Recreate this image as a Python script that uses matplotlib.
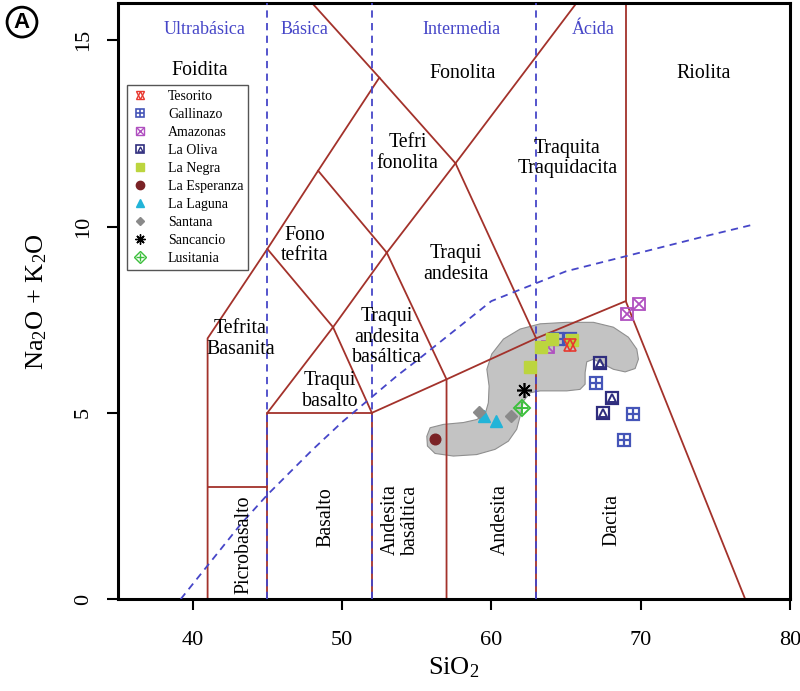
import numpy as np
import matplotlib.pyplot as plt
from matplotlib.lines import Line2D
from matplotlib.patches import Polygon
from matplotlib.legend_handler import HandlerTuple

plt.rcParams['font.family'] = ['Liberation Serif', 'DejaVu Serif']
plt.rcParams['mathtext.default'] = 'regular'

# TAS boundaries (SiO2, Na2O+K2O)
tas_lines = [
    [(41, 0), (41, 7), (45, 9.4), (48.4, 11.5), (52.5, 14), (57.6, 11.7), (63, 7)],
    [(41, 3), (45, 3)],
    [(45, 0), (45, 5), (52, 5), (52, 0)],
    [(45, 5), (49.4, 7.3), (52, 5)],
    [(45, 9.4), (49.4, 7.3)],
    [(48.4, 11.5), (53, 9.3), (49.4, 7.3)],
    [(53, 9.3), (57, 5.9), (57, 0)],
    [(53, 9.3), (57.6, 11.7)],
    [(52, 5), (57, 5.9), (63, 7), (69, 8), (77, 0)],
    [(63, 7), (63, 0)],
    [(69, 8), (69, 16)],
    [(52.5, 14), (48.0, 16)],
    [(57.6, 11.7), (65.7, 16)],
]

# alkaline / subalkaline divide
ib_x = [39.2, 40, 43.2, 45, 48, 50, 53.7, 55, 60, 65, 74.4, 77.5]
ib_y = [0, 0.4, 2.0, 2.8, 4.0, 4.75, 6.0, 6.4, 8.0, 8.8, 9.75, 10.05]

silica_div = [45, 52, 63]
silica_names = ['Ultrabásica', 'Básica', 'Intermedia', 'Ácida']
silica_name_x = [40.8, 47.5, 58.0, 66.8]

# grey field
field_x = [55.68, 55.90, 56.79, 58.13, 59.02, 59.58, 59.80, 59.85, 59.70, 60.03,
           60.81, 61.93, 63.27, 65.05, 66.84, 68.17, 69.18, 69.74, 69.85, 69.63,
           68.96, 68.17, 67.40, 66.84, 66.39, 66.28, 66.28, 65.94, 65.05, 63.27,
           62.60, 62.15, 61.93, 61.70, 61.14, 60.25, 59.02, 57.46, 56.23, 55.72]
field_y = [4.37, 4.60, 4.69, 4.74, 4.82, 4.96, 5.27, 5.72, 6.17, 6.58,
           6.98, 7.25, 7.39, 7.43, 7.43, 7.30, 7.03, 6.71, 6.44, 6.19,
           6.10, 6.17, 6.33, 6.44, 6.37, 6.08, 5.77, 5.63, 5.59, 5.59,
           5.54, 5.32, 4.91, 4.56, 4.24, 4.02, 3.88, 3.84, 3.91, 4.11]

# samples
tesorito_x, tesorito_y = [65.3], [6.82]
gallinazo_x = [64.4, 65.3, 67.0, 69.5, 68.9]
gallinazo_y = [6.98, 6.98, 5.81, 4.98, 4.27]
amazonas_x = [63.8, 69.1, 69.9]
amazonas_y = [6.78, 7.65, 7.92]
oliva_x = [67.3, 68.1, 67.5]
oliva_y = [6.33, 5.39, 4.99]
negra_x = [63.3, 64.05, 65.4, 62.6]
negra_y = [6.76, 6.98, 6.95, 6.22]
esperanza_x, esperanza_y = [56.2], [4.31]
laguna_x = [59.5, 60.3]
laguna_y = [4.91, 4.78]
santana_x = [59.2, 61.35]
santana_y = [5.02, 4.91]
sancancio_x, sancancio_y = [62.2], [5.61]
lusitania_x, lusitania_y = [62.05], [5.14]

# rock names: (text, x, y, rotation)
rock_labels = [
    ('Foidita', 40.5, 14.2, 0), ('Fonolita', 58.1, 14.12, 0), ('Riolita', 74.2, 14.12, 0),
    ('Tefri\nfonolita', 54.4, 11.97, 0), ('Traquita\nTraquidacita', 65.1, 11.83, 0),
    ('Fono\ntefrita', 47.5, 9.49, 0), ('Traqui\nandesita', 57.6, 9.0, 0),
    ('Tefrita\nBasanita', 43.2, 6.98, 0), ('Traqui\nandesita\nbasáltica', 53.0, 7.03, 0),
    ('Traqui\nbasalto', 49.2, 5.58, 0), ('Picrobasalto', 43.4, 1.46, 90),
    ('Basalto', 48.9, 2.2, 90), ('Andesita\nbasáltica', 53.9, 2.13, 90),
    ('Andesita', 60.6, 2.13, 90), ('Dacita', 68.1, 2.13, 90),
]

red = '#a3322b'
blue = '#4646c8'

fig = plt.figure(figsize=(8, 6.91), dpi=100)
ax = fig.add_axes([0.1475, 0.133, 0.84, 0.8625])

ax.add_patch(Polygon(np.column_stack([field_x, field_y]), closed=True,
                     facecolor='#c3c3c3', edgecolor='#8f8f8f', lw=0.8, zorder=1))

for seg in tas_lines:
    xs, ys = zip(*seg)
    ax.plot(xs, ys, color=red, lw=1.3, zorder=2)

for xv in silica_div:
    ax.plot([xv, xv], [0, 16], color=blue, lw=1.3, ls=(0, (4, 3)), zorder=3)
ax.plot(ib_x, ib_y, color=blue, lw=1.3, ls=(0, (4, 3)), zorder=3)

for name, xv in zip(silica_names, silica_name_x):
    ax.text(xv, 15.28, name, color=blue, fontsize=13, ha='center', va='center')
for txt, xv, yv, rot in rock_labels:
    ax.text(xv, yv, txt, fontsize=14.3, ha='center', va='center', rotation=rot,
            linespacing=1.12, zorder=4)

ms = 9
c_tes, c_gal, c_ama, c_oli = '#e8382f', '#4555b8', '#b050c0', '#2f2d7e'
c_neg, c_esp, c_lag, c_san, c_sac, c_lus = '#bcd53e', '#7a2326', '#22b4d8', '#8a8a8a', 'black', '#3cbf3c'

def pts(x, y, **kw):
    ax.plot(x, y, ls='none', zorder=5, **kw)

pts(gallinazo_x, gallinazo_y, marker='s', ms=ms, mfc='none', mec=c_gal, mew=1.6)
pts(gallinazo_x, gallinazo_y, marker='+', ms=ms, mec=c_gal, mew=1.6)
pts(oliva_x, oliva_y, marker='s', ms=ms, mfc='none', mec=c_oli, mew=1.6)
pts(oliva_x, oliva_y, marker='^', ms=ms * 0.6, mfc='none', mec=c_oli, mew=1.4)
pts(amazonas_x, amazonas_y, marker='s', ms=ms, mfc='none', mec=c_ama, mew=1.3)
pts(amazonas_x, amazonas_y, marker='x', ms=ms * 0.9, mec=c_ama, mew=1.3)
pts(negra_x, negra_y, marker='s', ms=ms, mfc=c_neg, mec=c_neg)
pts(tesorito_x, tesorito_y, marker='^', ms=ms * 0.9, mfc='none', mec=c_tes, mew=1.2)
pts(tesorito_x, tesorito_y, marker='v', ms=ms * 0.9, mfc='none', mec=c_tes, mew=1.2)
pts(esperanza_x, esperanza_y, marker='o', ms=ms * 0.85, mfc=c_esp, mec=c_esp)
pts(laguna_x, laguna_y, marker='^', ms=ms, mfc=c_lag, mec=c_lag)
pts(santana_x, santana_y, marker='D', ms=ms * 0.7, mfc=c_san, mec=c_san)
pts(sancancio_x, sancancio_y, marker=(8, 2, 0), ms=ms * 1.2, mec=c_sac, mew=1.2)
pts(lusitania_x, lusitania_y, marker='D', ms=ms * 0.95, mfc='none', mec=c_lus, mew=1.4)
pts(lusitania_x, lusitania_y, marker='+', ms=ms * 0.95, mec=c_lus, mew=1.4)

# legend
lm = 6
def h(**kw):
    return Line2D([], [], ls='none', **kw)

handles = [
    (h(marker='^', ms=lm, mfc='none', mec=c_tes), h(marker='v', ms=lm, mfc='none', mec=c_tes)),
    (h(marker='s', ms=lm, mfc='none', mec=c_gal, mew=1.2), h(marker='+', ms=lm, mec=c_gal, mew=1.2)),
    (h(marker='s', ms=lm, mfc='none', mec=c_ama), h(marker='x', ms=lm, mec=c_ama)),
    (h(marker='s', ms=lm, mfc='none', mec=c_oli, mew=1.2), h(marker='^', ms=lm * 0.6, mfc='none', mec=c_oli)),
    h(marker='s', ms=lm, mfc=c_neg, mec=c_neg),
    h(marker='o', ms=lm, mfc=c_esp, mec=c_esp),
    h(marker='^', ms=lm, mfc=c_lag, mec=c_lag),
    h(marker='D', ms=lm * 0.7, mfc=c_san, mec=c_san),
    h(marker=(8, 2, 0), ms=lm * 1.2, mec=c_sac),
    (h(marker='D', ms=lm, mfc='none', mec=c_lus), h(marker='+', ms=lm, mec=c_lus)),
]
names = ['Tesorito', 'Gallinazo', 'Amazonas', 'La Oliva', 'La Negra', 'La Esperanza',
         'La Laguna', 'Santana', 'Sancancio', 'Lusitania']
leg = ax.legend(handles, names, loc='upper left', bbox_to_anchor=(0.003, 0.874),
                handler_map={tuple: HandlerTuple(ndivide=1)}, fontsize=10,
                labelspacing=0.36, handlelength=1.2, handletextpad=1.4,
                borderpad=0.35, fancybox=False, framealpha=1, edgecolor='#555555')
leg.get_frame().set_linewidth(1.0)
leg.set_zorder(6)

ax.set_xlim(35, 80)
ax.set_ylim(0, 16)
ax.set_xticks([40, 50, 60, 70, 80])
ax.set_yticks([0, 5, 10, 15])
ax.tick_params(direction='out', length=8, width=1.5, labelsize=16, pad=10)
ax.tick_params(axis='x', pad=15)
for lab in ax.get_yticklabels():
    lab.set_rotation(90)
    lab.set_va('center')
for sp in ax.spines.values():
    sp.set_linewidth(2.2)

ax.set_xlabel('SiO$_2$', fontsize=19, labelpad=4)
ax.set_ylabel('Na$_2$O + K$_2$O', fontsize=19, labelpad=18)

fig.text(0.0275, 0.968, 'A', fontsize=16, fontweight='bold', family='Liberation Sans',
         ha='center', va='center',
         bbox=dict(boxstyle='circle,pad=0.2', fc='white', ec='black', lw=2))

fig.savefig('out.png', dpi=100)
